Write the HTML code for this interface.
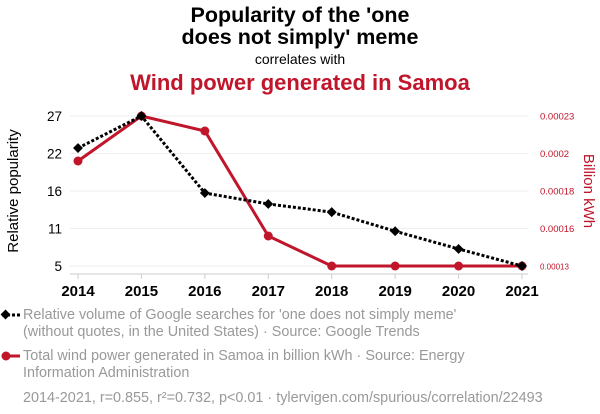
<!DOCTYPE html>
<html><head><meta charset="utf-8"><style>
body{margin:0;width:600px;height:414px;background:#fff;font-family:"Liberation Sans",sans-serif;overflow:hidden}
svg{position:absolute;left:0;top:0}
</style></head><body>
<svg width="600" height="414">
<text x="300" y="22" text-anchor="middle" font-size="21.5" font-weight="bold" fill="#000">Popularity of the 'one</text>
<text x="300" y="44" text-anchor="middle" font-size="21.5" font-weight="bold" fill="#000">does not simply' meme</text>
<text x="300" y="64" text-anchor="middle" font-size="14" fill="#000">correlates with</text>
<text x="300" y="90" text-anchor="middle" font-size="22" font-weight="bold" fill="#c0152b">Wind power generated in Samoa</text>
<g id="grid"></g><g id="axes"></g><g id="series"></g>
<text transform="translate(18,191) rotate(-90)" text-anchor="middle" font-size="15" fill="#000">Relative popularity</text>
<text transform="translate(584,191) rotate(90)" text-anchor="middle" font-size="15" fill="#c0152b">Billion kWh</text>
<g>
<line x1="2" y1="315" x2="20" y2="315" stroke="#000" stroke-width="3" stroke-dasharray="3,2"/>
<rect x="2" y="311" width="7" height="7" fill="#000" transform="rotate(45 5.5 314.5)"/>
<text x="23" y="319" font-size="14.4" fill="#999">Relative volume of Google searches for 'one does not simply meme'</text>
<text x="23" y="336" font-size="14.4" fill="#999">(without quotes, in the United States) · Source: Google Trends</text>
</g>
<g>
<line x1="2" y1="356" x2="20" y2="356" stroke="#c0152b" stroke-width="3"/>
<circle cx="6" cy="356" r="4.5" fill="#c0152b"/>
<text x="23" y="360" font-size="14.4" fill="#999">Total wind power generated in Samoa in billion kWh · Source: Energy</text>
<text x="23" y="377" font-size="14.4" fill="#999">Information Administration</text>
</g>
<text x="23" y="402" font-size="14.4" fill="#999">2014-2021, r=0.855, r²=0.732, p&lt;0.01 · tylervigen.com/spurious/correlation/22493</text>
</svg>
<script>
const years=[2014,2015,2016,2017,2018,2019,2020,2021];
const memeValues=[22.3,27,15.7,14.1,12.9,10.1,7.5,5];
const windValues=[0.0002,0.00023,0.00022,0.00015,0.00013,0.00013,0.00013,0.00013];
const leftTicks=[5,10.5,16,21.5,27];
const leftTickLabels=["5","11","16","22","27"];
const rightTicks=[0.00013,0.000155,0.00018,0.000205,0.00023];
const rightTickLabels=["0.00013","0.00016","0.00018","0.0002","0.00023"];
const NS="http://www.w3.org/2000/svg";
const x=y=>78+(y-2014)*(444/7);
const yL=v=>266-(v-5)/22*150;
const yR=v=>266-(v-0.00013)/0.0001*150;
function mk(t,a,p){const e=document.createElementNS(NS,t);for(const k in a)e.setAttribute(k,a[k]);p.appendChild(e);return e;}
const grid=document.getElementById('grid'),axes=document.getElementById('axes'),ser=document.getElementById('series');
leftTicks.forEach((v,i)=>{
 const g=mk('line',{x1:70,x2:528,y1:yL(v),y2:yL(v),stroke:'#eee','stroke-width':1},grid);
 
 
 const t=mk('text',{x:62,y:yL(v)+5,'text-anchor':'end','font-size':13.5,fill:'#000'},axes);t.textContent=leftTickLabels[i];
 
 
});
rightTicks.forEach((v,i)=>{
 const t=mk('text',{x:540,y:yR(v)+3.5,'font-size':i==0?8:9.5,fill:'#c0152b'},axes);t.textContent=rightTickLabels[i];
 
 
});
const ax=mk('line',{x1:70,x2:528,y1:274,y2:274,stroke:'#ccc','stroke-width':1},axes);


years.forEach(yr=>{
 mk('line',{x1:x(yr),x2:x(yr),y1:274,y2:279,stroke:'#ccc'},axes);
 const t=mk('text',{x:x(yr),y:296,'text-anchor':'middle','font-size':15,'font-weight':'bold',fill:'#000'},axes);t.textContent=yr;
 
 
});
const wl=mk('polyline',{points:years.map((yr,i)=>x(yr)+','+yR(windValues[i])).join(' '),fill:'none',stroke:'#c0152b','stroke-width':3},ser);


years.forEach((yr,i)=>{const c=mk('circle',{cx:x(yr),cy:yR(windValues[i]),r:4.5,fill:'#c0152b'},ser);
 
 });
const ml=mk('polyline',{points:years.map((yr,i)=>x(yr)+','+yL(memeValues[i])).join(' '),fill:'none',stroke:'#000','stroke-width':3,'stroke-dasharray':'3,2'},ser);


years.forEach((yr,i)=>{const cx=x(yr),cy=yL(memeValues[i]);
 const d=mk('rect',{x:cx-3.5,y:cy-3.5,width:7,height:7,fill:'#000',transform:`rotate(45 ${cx} ${cy})`},ser);
 
 });
</script>
</body></html>
